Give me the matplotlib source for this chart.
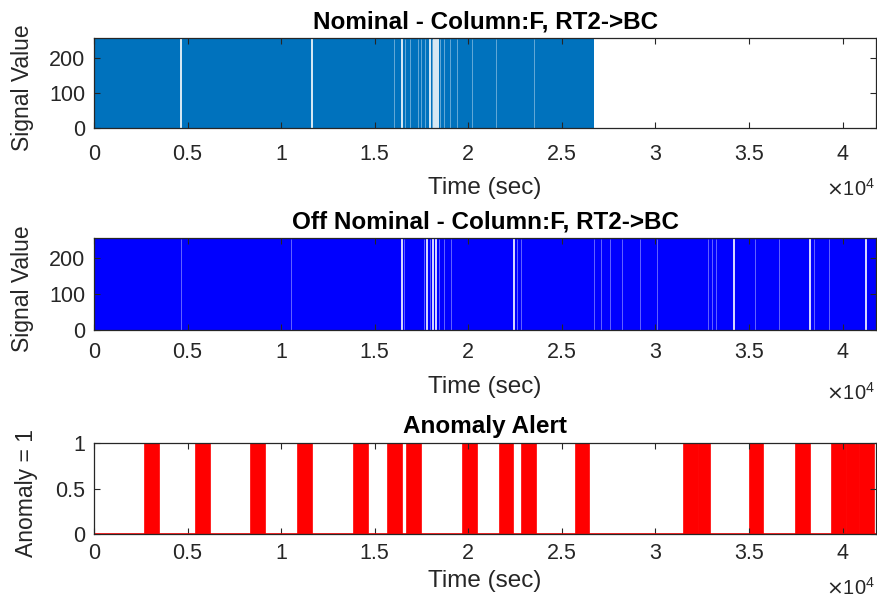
import matplotlib
matplotlib.use('Agg')
import matplotlib.pyplot as plt

plt.rcParams['font.family'] = ['Liberation Sans', 'DejaVu Sans']

# time axis
t_max = 41800
xtick_vals = [0, 5000, 10000, 15000, 20000, 25000, 30000, 35000, 40000]
xtick_labels = ['0', '0.5', '1', '1.5', '2', '2.5', '3', '3.5', '4']

# nominal signal: dense band 0..255, white dropouts inside
nominal_span = (0, 26700)
nominal_gaps = [4630, 11650, 16440, 17980, 18150, 18260, 18380]
nominal_light = [16050, 16600, 16900, 17300, 17500, 17700, 18050, 18500, 18700,
                 19000, 19400, 20200, 21500, 23500]

# off nominal signal
offnom_span = (0, 41800)
offnom_gaps = [16480, 17800, 18130, 18290, 22420, 34200, 38280, 41240]
offnom_light = [4630, 10520, 16560, 17650, 17950, 18450, 18700, 19100, 22600, 22800,
                26700, 27100, 27600, 28200, 29200, 30100, 32800, 33000, 33250,
                35300, 36600, 38500, 39300]

# anomaly windows (value = 1)
anom_start = [2670, 5400, 8350, 10860, 13850, 15650, 16700, 19690, 21630, 22830,
              25700, 31450, 32300, 34990, 37480, 39370, 40170, 40880]
anom_end = [3470, 6200, 9130, 11650, 14640, 16450, 17480, 20480, 22400, 23610,
            26460, 32300, 32920, 35750, 38250, 40170, 40880, 41670]

fig = plt.figure(figsize=(8.78, 6.02), dpi=100)
ax1 = fig.add_axes([0.107, 0.787, 0.891, 0.150])
ax2 = fig.add_axes([0.107, 0.452, 0.891, 0.153])
ax3 = fig.add_axes([0.107, 0.113, 0.891, 0.151])

edge = '#262626'


def style(ax, title, ylabel, ylab_x, tick_pad, lab_pad, exp_off):
    ax.set_xlim(0, t_max)
    ax.set_xticks(xtick_vals)
    ax.set_xticklabels(xtick_labels)
    ax.tick_params(direction='in', length=4, width=0.8, top=True, right=True,
                   labelsize=15.5, colors=edge)
    ax.tick_params(axis='x', pad=tick_pad)
    ax.tick_params(axis='y', pad=6)
    for s in ax.spines.values():
        s.set_color(edge)
        s.set_linewidth(0.9)
    ax.set_title(title, fontsize=17.5, fontweight='bold', pad=7)
    ax.set_ylabel(ylabel, fontsize=16.5, color=edge)
    ax.yaxis.set_label_coords(ylab_x, 0.45)
    ax.set_xlabel('Time (sec)', fontsize=17.5, color=edge, labelpad=lab_pad)
    ax.annotate(r'$\times\mathregular{10^4}$', xy=(1.0, 0.0), xycoords='axes fraction',
                xytext=(-1, exp_off), textcoords='offset points',
                ha='right', va='center', fontsize=14.5, color=edge)


# top panel
ax1.fill_between(nominal_span, 0, 255, color='#0072BD', lw=0)
ax1.vlines(nominal_gaps, 0, 255, color='white', lw=1.2)
ax1.vlines(nominal_light, 0, 255, color='white', lw=0.6, alpha=0.45)
ax1.set_ylim(0, 257)
ax1.set_yticks([0, 100, 200])
style(ax1, 'Nominal - Column:F, RT2->BC', 'Signal Value', -0.076, 11, 9, -44)

# middle panel
ax2.fill_between(offnom_span, 0, 255, color='#0000FF', lw=0)
ax2.vlines(offnom_gaps, 0, 255, color='white', lw=1.2)
ax2.vlines(offnom_light, 0, 255, color='white', lw=0.6, alpha=0.45)
ax2.set_ylim(0, 257)
ax2.set_yticks([0, 100, 200])
style(ax2, 'Off Nominal - Column:F, RT2->BC', 'Signal Value', -0.076, 9, 9, -45)

# bottom panel
for a, b in zip(anom_start, anom_end):
    ax3.fill_between([a, b], 0, 1, color='#FF0000', lw=0.5, edgecolor='#FF0000')
ax3.axhline(0, color='#FF0000', lw=1.2)
ax3.set_ylim(0, 1)
ax3.set_yticks([0, 0.5, 1])
ax3.set_yticklabels(['0', '0.5', '1'])
style(ax3, 'Anomaly Alert', 'Anomaly = 1', -0.071, 6.5, 4, -39)

fig.savefig('out.png', dpi=100)
